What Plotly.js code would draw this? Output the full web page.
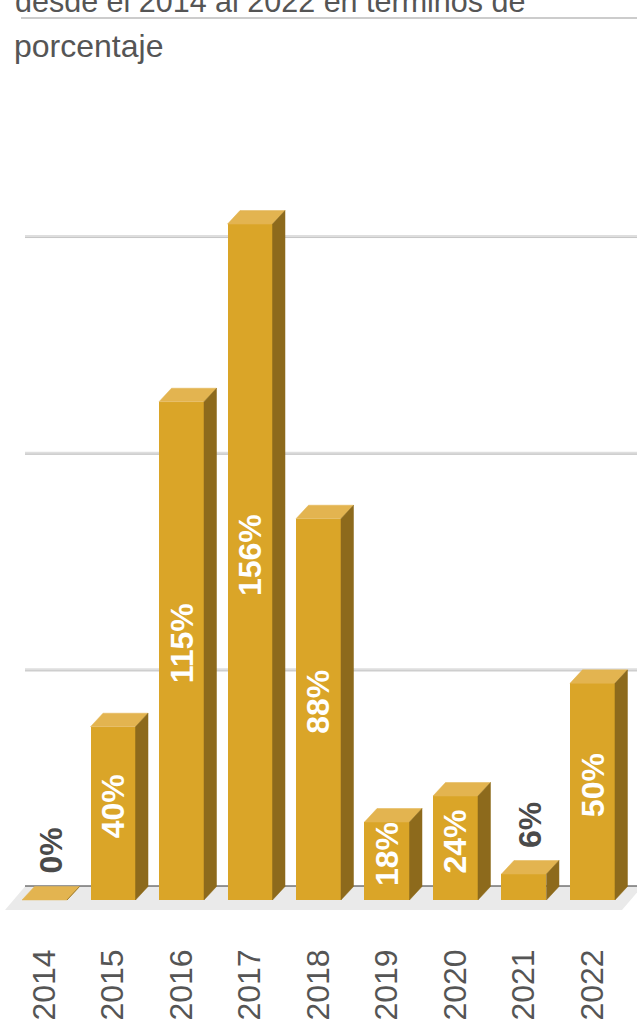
<!DOCTYPE html>
<html>
<head>
<meta charset="utf-8">
<script src="https://cdn.plot.ly/plotly-3.0.1.min.js"></script>
<style>html,body{margin:0;padding:0;background:#fff;}#chart{width:637px;height:1024px;}</style>
</head>
<body>
<div id="chart"></div>
<script>
// ---- data ----
const categories = ['2014', '2015', '2016', '2017', '2018', '2019', '2020', '2021', '2022'];
const values = [0, 40, 115, 156, 88, 18, 24, 6, 50];
const labels = ['0%', '40%', '115%', '156%', '88%', '18%', '24%', '6%', '50%'];
const gridValues = [50, 100, 150];
const titleLine1 = 'desde el 2014 al 2022 en términos de';
const titleLine2 = 'porcentaje';

// ---- geometry (pixel -> data conversions) ----
const W = 637, H = 1024;
const mT = 100, mB = 112;
const plotH = H - mT - mB;              // 812
const pxPerY = 4.333;
const yMin = -12 / pxPerY;
const yMax = yMin + plotH / pxPerY;
const xMin = -0.65, xMax = 8.65;
const pxPerX = W / (xMax - xMin);
const barW = 0.657;
const dX = 12.5 / pxPerX;               // depth offset (x)
const dY = 13.5 / pxPerY;               // depth offset (y)
const xs = categories.map((c, i) => i);

const FONT = 'Liberation Sans, Arial, Helvetica, sans-serif';
const FRONT = '#DAA528', TOP = '#E3B450', SIDE = '#8D6A1C';

// top and side faces of the 3D bars, built from the data
const topX = [], topY = [], sideX = [], sideY = [];
xs.forEach((x, i) => {
  const v = values[i], l = x - barW / 2, r = x + barW / 2;
  topX.push(l, l + dX, r + dX, r, l, null);
  topY.push(v, v + dY, v + dY, v, v, null);
  sideX.push(r, r + dX, r + dX, r, r, null);
  sideY.push(0, dY, v + dY, v, 0, null);
});

const traces = [
  {type: 'bar', x: xs, y: values, width: barW, marker: {color: FRONT, line: {width: 0}}, hoverinfo: 'skip', showlegend: false},
  {type: 'scatter', mode: 'lines', x: topX, y: topY, fill: 'toself', fillcolor: TOP, line: {color: TOP, width: 0.5}, hoverinfo: 'skip', showlegend: false},
  {type: 'scatter', mode: 'lines', x: sideX, y: sideY, fill: 'toself', fillcolor: SIDE, line: {color: SIDE, width: 0.5}, hoverinfo: 'skip', showlegend: false}
];

// data labels
const annotations = values.map((v, i) => {
  const inside = v * pxPerY > 70;
  return inside ? {
    x: xs[i], y: v / 2, xref: 'x', yref: 'y', text: '<b>' + labels[i] + '</b>', showarrow: false,
    textangle: -90, yshift: 7, font: {family: FONT, size: 32, color: '#ffffff'}
  } : {
    x: xs[i], y: v, xref: 'x', yref: 'y', text: '<b>' + labels[i] + '</b>', showarrow: false,
    textangle: -90, yanchor: 'bottom', yshift: 24, xshift: 6, font: {family: FONT, size: 32, color: '#4a4a4a'}
  };
});
const pyPaper = px => (H - mB - px) / plotH;
annotations.push(
  {xref: 'paper', yref: 'paper', x: 13 / W, y: pyPaper(20), xanchor: 'left', yanchor: 'bottom', showarrow: false,
   text: titleLine1, font: {family: FONT, size: 30.5, color: '#555555'}},
  {xref: 'paper', yref: 'paper', x: 12 / W, y: pyPaper(66), xanchor: 'left', yanchor: 'bottom', showarrow: false,
   text: titleLine2, font: {family: FONT, size: 32, color: '#555555'}}
);

// floor, back baseline, gridlines, header rule
const fl = xMin + 5 / pxPerX, fr = xMin + 622 / pxPerX;
const floorFront = -10 / pxPerY, floorDX = 20 / pxPerX;
const shapes = [
  {type: 'path', xref: 'x', yref: 'y', layer: 'below',
   path: `M${fl},${floorFront} L${fl + floorDX},${dY} L${fr + floorDX},${dY} L${fr},${floorFront} Z`,
   fillcolor: '#eaeaea', line: {width: 0}},
  {type: 'line', xref: 'paper', yref: 'y', layer: 'below', x0: 25 / W, x1: 1, y0: dY, y1: dY,
   line: {color: '#333333', width: 2}}
];
gridValues.forEach(g => {
  shapes.push({type: 'line', xref: 'paper', yref: 'y', layer: 'below', x0: 25 / W, x1: 1, y0: g + dY, y1: g + dY,
    line: {color: '#dedede', width: 3}});
  shapes.push({type: 'line', xref: 'paper', yref: 'y', layer: 'below', x0: 25 / W, x1: 1, y0: g + dY - 1 / pxPerY, y1: g + dY - 1 / pxPerY,
    line: {color: '#c6c6c6', width: 1}});
});
shapes.push({type: 'line', xref: 'paper', yref: 'paper', x0: 21 / W, x1: 1, y0: pyPaper(18), y1: pyPaper(18),
  line: {color: '#cccccc', width: 2}});

const layout = {
  width: W, height: H,
  margin: {l: 0, r: 0, t: mT, b: mB, pad: 0},
  paper_bgcolor: '#ffffff', plot_bgcolor: '#ffffff',
  showlegend: false,
  bargap: 0,
  xaxis: {range: [xMin, xMax], tickvals: xs, ticktext: categories, tickangle: -90,
    tickfont: {family: FONT, size: 32, color: '#555555'}, ticks: '', showgrid: false, zeroline: false,
    showline: false, ticklabelstandoff: 30, fixedrange: true},
  yaxis: {range: [yMin, yMax], showgrid: false, zeroline: false, showticklabels: false, showline: false, ticks: '', fixedrange: true},
  shapes: shapes,
  annotations: annotations
};

Plotly.newPlot('chart', traces, layout, {displayModeBar: false, staticPlot: true});
</script>
</body>
</html>
